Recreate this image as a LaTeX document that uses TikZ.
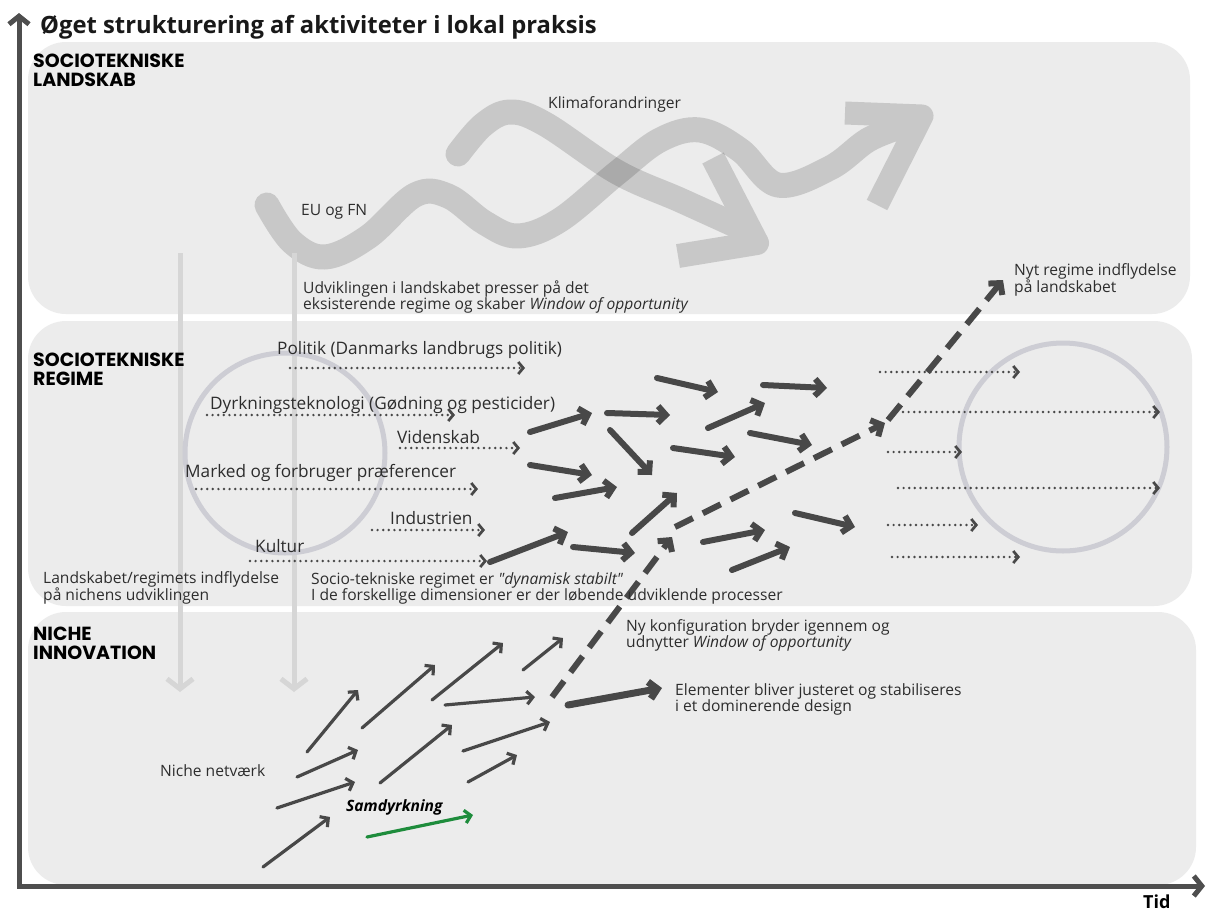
\documentclass[tikz,border=0pt]{standalone}
\usepackage{fontspec}
\setmainfont{Open Sans}
\newfontfamily\headfont{Poppins}
\usetikzlibrary{arrows.meta}
\definecolor{bandc}{RGB}{236,236,236}
\definecolor{dk}{RGB}{72,72,72}
\definecolor{txt}{RGB}{45,45,45}
\definecolor{circc}{RGB}{205,205,212}
\definecolor{vline}{RGB}{214,214,214}
\definecolor{grn}{RGB}{30,140,60}
\definecolor{axisc}{RGB}{78,78,78}
\begin{document}
\begin{tikzpicture}[x=1pt,y=-1pt,
  band/.style={fill=bandc, rounded corners=38pt},
  body/.style={font=\fontsize{15.6}{16}\selectfont, text=txt, inner sep=0pt, align=left, anchor=west},
  dimlab/.style={body, font=\fontsize{17.2}{18}\selectfont},
  head/.style={font=\headfont\bfseries\fontsize{19}{19}\selectfont, text=black, inner sep=0pt, align=left, anchor=west},
  bigarr/.style={dk, line width=6pt, line cap=round, -{Straight Barb[length=8pt,width=17pt]}},
  nicharr/.style={dk, line width=3.2pt, line cap=round, -{Straight Barb[length=6pt,width=13pt]}},
  dotarr/.style={dk, line width=2.7pt, line cap=round, dash pattern=on 0pt off 5.6pt, -{Straight Barb[length=5pt,width=12pt]}},
  dasharr/.style={dk, line width=6pt, dash pattern=on 20pt off 11pt, -{Straight Barb[length=8pt,width=18pt]}},
  vlarr/.style={vline, line width=5pt, -{Straight Barb[length=10pt,width=26pt]}},
  wave/.style={black, line width=25pt, line cap=round, line join=round},
]
\useasboundingbox (0,0) rectangle (1208,913);
\fill[white] (0,0) rectangle (1208,913);
% bands
\fill[band] (28,42) rectangle (1190,314);
\fill[band] (28,321) rectangle (1192,606);
\fill[band] (28,612) rectangle (1196,885);

% wavy landscape arrows
\begin{scope}[transparency group, opacity=0.15]
  \draw[wave] plot[smooth, tension=0.6] coordinates {(458,154) (483,125) (510,112) (545,124) (617,172) (680,200) (735,225)};
  \draw[wave, line width=24pt, line cap=butt] (713,158) -- (757,243) -- (678,256);
\end{scope}
\begin{scope}[transparency group, opacity=0.15]
  \draw[wave] plot[smooth, tension=0.6] coordinates {(267,205) (292,242) (325,257) (368,237) (415,195) (448,196) (485,223) (518,236) (560,220) (617,173) (660,140) (700,130) (740,150) (778,185) (830,168) (868,140) (900,127)};
  \draw[wave, line width=23pt, line cap=butt] (845,113) -- (922,116) -- (877,205);
\end{scope}

% influence arrows
\draw[vlarr] (180,253) -- (180,692);
\draw[vlarr] (294,253) -- (294,692);

% circles
\draw[circc, line width=5pt] (285,453) circle[radius=100pt];
\draw[circc, line width=5pt] (1063,447) circle[radius=104pt];

% dotted dimension arrows (left)
\draw[dotarr] (290,368) -- (525,368);
\draw[dotarr] (207,415) -- (455,415);
\draw[dotarr] (400,448) -- (520,448);
\draw[dotarr] (196,489) -- (478,489);
\draw[dotarr] (372,530) -- (485,530);
\draw[dotarr] (250,561) -- (487,561);
% dotted (right)
\draw[dotarr] (880,372) -- (1020,372);
\draw[dotarr] (903,412) -- (1160,412);
\draw[dotarr] (888,452) -- (962,452);
\draw[dotarr] (898,488) -- (1160,488);
\draw[dotarr] (888,525) -- (978,525);
\draw[dotarr] (892,557) -- (1020,557);

% regime processes
\draw[bigarr] (530,432) -- (592,413);
\draw[bigarr] (607,413) -- (670,415);
\draw[bigarr] (610,430) -- (652,475);
\draw[bigarr] (657,378) -- (718,392);
\draw[bigarr] (763,385) -- (827,388);
\draw[bigarr] (708,428) -- (765,403);
\draw[bigarr] (750,433) -- (812,445);
\draw[bigarr] (673,448) -- (735,457);
\draw[bigarr] (530,465) -- (592,475);
\draw[bigarr] (555,498) -- (617,487);
\draw[bigarr] (632,533) -- (677,493);
\draw[bigarr] (490,562) -- (568,532);
\draw[bigarr] (573,547) -- (635,553);
\draw[bigarr] (703,542) -- (765,530);
\draw[bigarr] (732,570) -- (790,547);
\draw[bigarr] (795,513) -- (855,527);

% dashed breakthrough
\draw[dasharr] (552,697) -- (672,537);
\draw[dasharr] (675,527) -- (885,423);
\draw[dasharr] (888,420) -- (1003,280);

% niche arrows
\draw[nicharr] (307,752) -- (358,690);
\draw[nicharr] (362,728) -- (435,665);
\draw[nicharr] (432,700) -- (503,643);
\draw[nicharr] (523,670) -- (563,638);
\draw[nicharr] (297,777) -- (358,750);
\draw[nicharr] (445,705) -- (535,697);
\draw[nicharr] (277,808) -- (355,782);
\draw[nicharr] (380,783) -- (452,725);
\draw[nicharr] (463,751) -- (550,722);
\draw[nicharr] (263,867) -- (330,817);
\draw[nicharr] (468,782) -- (517,755);
\draw[nicharr, grn] (367,837) -- (473,815);
\draw[bigarr, line width=7pt] (568,705) -- (662,688);

% texts
\node[anchor=west, inner sep=0pt, font=\bfseries\fontsize{23.8}{24}\selectfont, text=black!90] (title) at (40,27) {Øget strukturering af aktiviteter i lokal praksis};
\node[head] (hland) at (33,70.5) {SOCIOTEKNISKE\\LANDSKAB};
\node[head] (hreg) at (33,369) {SOCIOTEKNISKE\\REGIME};
\node[head] (hniche) at (33,643.5) {NICHE\\INNOVATION};

\node[body] (eu) at (301,212) {EU og FN};
\node[body] (klima) at (548,104) {Klimaforandringer};
\node[body] (udv) at (303,297) {Udviklingen i landskabet presser på det\\eksisterende regime og skaber \textit{Window of opportunity}};
\node[body] (nyt) at (1014,280) {Nyt regime indflydelse\\på landskabet};
\node[body] (lrinf) at (43,588) {Landskabet/regimets indflydelse\\på nichens udviklingen};
\node[body] (soc) at (311,588) {Socio-tekniske regimet er \textit{\textquotedbl dynamisk stabilt\textquotedbl}\\I de forskellige dimensioner er der løbende udviklende processer};
\node[body] (nykonf) at (626,635) {Ny konfiguration bryder igennem og\\udnytter \textit{Window of opportunity}};
\node[body] (elem) at (675,699) {Elementer bliver justeret og stabiliseres\\i et dominerende design};
\node[body] (nnet) at (160,771) {Niche netværk};
\node[body, font=\bfseries\itshape\fontsize{15.6}{16}\selectfont, text=black] (samd) at (346,807) {Samdyrkning};

\node[dimlab] (pol) at (277,350) {Politik (Danmarks landbrugs politik)};
\node[dimlab] (dyrk) at (210,405) {Dyrkningsteknologi (Gødning og pesticider)};
\node[dimlab] (vid) at (397,437) {Videnskab};
\node[dimlab] (mark) at (185,473) {Marked og forbruger præferencer};
\node[dimlab] (ind) at (390,518) {Industrien};
\node[dimlab] (kult) at (255,546) {Kultur};

% axes
\draw[axisc, line width=5pt, {Straight Barb[length=8pt,width=20pt]}-{Straight Barb[length=8pt,width=20pt]}] (19,13) -- (19,886) -- (1205,886);
\node[anchor=west, inner sep=0pt, font=\bfseries\fontsize{18}{19}\selectfont, text=black] (tid) at (1143,902) {Tid};
\end{tikzpicture}
\end{document}
